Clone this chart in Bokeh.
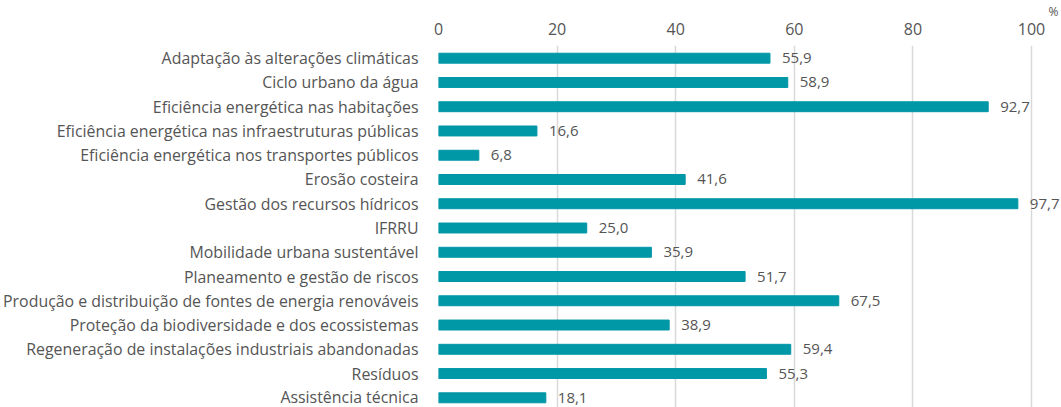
from bokeh.plotting import figure
from bokeh.models import ColumnDataSource, Range1d, FixedTicker, Title
from bokeh.core.properties import value
from bokeh.embed import file_html
from bokeh.resources import INLINE

categories = [
    "Adaptação às alterações climáticas",
    "Ciclo urbano da água",
    "Eficiência energética nas habitações",
    "Eficiência energética nas infraestruturas públicas",
    "Eficiência energética nos transportes públicos",
    "Erosão costeira",
    "Gestão dos recursos hídricos",
    "IFRRU",
    "Mobilidade urbana sustentável",
    "Planeamento e gestão de riscos",
    "Produção e distribuição de fontes de energia renováveis",
    "Proteção da biodiversidade e dos ecossistemas",
    "Regeneração de instalações industriais abandonadas",
    "Resíduos",
    "Assistência técnica",
]
values = [55.9, 58.9, 92.7, 16.6, 6.8, 41.6, 97.7, 25.0, 35.9, 51.7, 67.5, 38.9, 59.4, 55.3, 18.1]
x_ticks = [0, 20, 40, 60, 80, 100]
unit_label = "%"

FONT = "Open Sans"
TXT = "#555555"
BAR = "#0097a7"

pos = list(range(len(categories)))
src = ColumnDataSource(dict(
    y=pos,
    v=values,
    lbl=[f"{v:.1f}".replace(".", ",") for v in values],
))

p = figure(
    width=1061, height=407,
    x_range=Range1d(0, 105.06),
    y_range=Range1d(14.40, -0.524),
    output_backend="svg", toolbar_location=None,
    x_axis_location="above",
    min_border_left=438, min_border_right=0,
    min_border_top=45, min_border_bottom=0,
)
p.outline_line_color = None
p.background_fill_color = "white"
p.border_fill_color = "white"

p.title = Title(text=unit_label, align="right", offset=3, standoff=0,
                text_font=FONT, text_font_size="12px", text_color=TXT,
                text_font_style="normal")

p.hbar(y="y", right="v", left=0, height=0.41, source=src, color=BAR)
p.text(x="v", y="y", text="lbl", source=src, x_offset=12,
       text_align="left", text_baseline="middle", text_line_height=1.0,
       text_font=value(FONT), text_font_size="15px", text_color=TXT)

xa = p.xaxis[0]
xa.ticker = FixedTicker(ticks=x_ticks)
xa.axis_line_color = None
xa.major_tick_line_color = None
xa.minor_tick_line_color = None
xa.major_label_text_font = FONT
xa.major_label_text_font_size = "16px"
xa.major_label_text_color = TXT
xa.major_label_standoff = 5

ya = p.yaxis[0]
ya.ticker = FixedTicker(ticks=pos)
ya.major_label_overrides = {i: c for i, c in zip(pos, categories)}
ya.axis_line_color = None
ya.major_tick_line_color = None
ya.minor_tick_line_color = None
ya.major_label_text_font = FONT
ya.major_label_text_font_size = "15.9px"
ya.major_label_text_color = TXT
ya.major_label_standoff = 14

p.ygrid.grid_line_color = None
p.xgrid.ticker = FixedTicker(ticks=x_ticks)
p.xgrid.grid_line_color = "#d9d9d9"
p.xgrid.grid_line_width = 1.5

open("out.html", "w").write(file_html(p, INLINE))
